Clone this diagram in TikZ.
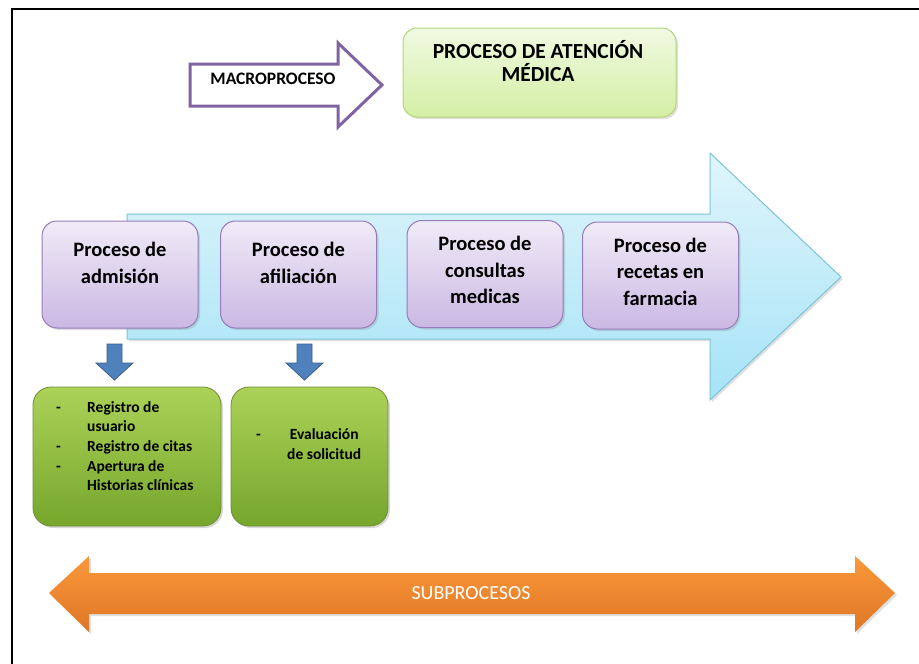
\documentclass[tikz,border=0pt]{standalone}
\usepackage{fontspec}
\setmainfont{Carlito}
\usetikzlibrary{shadows,positioning}
\definecolor{titleTop}{RGB}{240,250,226}
\definecolor{titleBot}{RGB}{212,239,164}
\definecolor{titleLine}{RGB}{178,214,124}
\definecolor{procTop}{RGB}{240,235,247}
\definecolor{procBot}{RGB}{203,184,227}
\definecolor{procLine}{RGB}{150,124,186}
\definecolor{flowTop}{RGB}{224,245,252}
\definecolor{flowBot}{RGB}{166,227,246}
\definecolor{flowLine}{RGB}{124,196,216}
\definecolor{taskTop}{RGB}{172,210,88}
\definecolor{taskBot}{RGB}{118,166,44}
\definecolor{taskLine}{RGB}{112,140,52}
\definecolor{downFill}{RGB}{79,129,189}
\definecolor{downLine}{RGB}{58,94,140}
\definecolor{subTop}{RGB}{251,152,58}
\definecolor{subBot}{RGB}{222,118,38}
\definecolor{macroLine}{RGB}{128,100,162}
\tikzset{
	% Box styles: title, process (purple) and task (green)
	title box/.style={rounded corners=14pt,draw=titleLine,line width=1pt,top color=titleTop,bottom color=titleBot,
		minimum width=273pt,minimum height=89pt,drop shadow={opacity=0.25,shadow xshift=2pt,shadow yshift=-2pt}},
	proc box/.style={rounded corners=15pt,draw=procLine,line width=1pt,top color=procTop,bottom color=procBot,
		minimum width=156pt,minimum height=107pt,drop shadow={opacity=0.25,shadow xshift=2pt,shadow yshift=-2pt}},
	task box/.style={rounded corners=18pt,draw=taskLine,line width=0.8pt,top color=taskTop,bottom color=taskBot,
		minimum height=139pt,drop shadow={opacity=0.3,shadow xshift=2pt,shadow yshift=-2pt}},
	proc text/.style={font=\fontsize{20.5}{26.5}\selectfont\bfseries,align=center,inner sep=0},
	task text/.style={font=\fontsize{15.5}{19.7}\selectfont\bfseries,inner sep=0,anchor=west}
}
\begin{document}
\begin{tikzpicture}[x=1pt,y=-1pt]
	\useasboundingbox (0,0) rectangle (919,664);
	% frame
	\draw[line width=2pt] (12,700) -- (12,9) -- (940,9);

	% macroproceso
	\draw[draw=macroLine,line width=3pt,fill=white,line join=miter]
		(190,64) -- (338,64) -- (338,43) -- (382,85) -- (338,127) -- (338,106) -- (190,106) -- cycle;
	\node[font=\fontsize{17.5}{20}\selectfont\bfseries,inner sep=0] (macro) at (273,79) {MACROPROCESO};
	\node[title box] (title) at (539.5,72.5) {};
	\node[proc text,font=\fontsize{21.5}{23}\selectfont\bfseries] (title-t) at (538,61.5) {PROCESO DE ATENCIÓN\\MÉDICA};

	% flow arrow
	\draw[draw=flowLine,line width=1pt,top color=flowTop,bottom color=flowBot,
		drop shadow={opacity=0.25,shadow xshift=2pt,shadow yshift=-2pt}]
		(127,214) -- (710,214) -- (710,153) -- (841,277) -- (710,400) -- (710,339) -- (127,339) -- cycle;

	% processes
	\node[proc box] (p1) at (120,274.5) {};
	\node[proc box] (p2) at (298.5,274.5) {};
	\node[proc box] (p3) at (485,274) {};
	\node[proc box] (p4) at (660.5,275.5) {};
	\node[proc text] (p1-t) at (120,263) {Proceso de\\admisión};
	\node[proc text] (p2-t) at (298.5,263) {Proceso de\\afiliación};
	\node[proc text] (p3-t) at (485,270) {Proceso de\\consultas\\medicas};
	\node[proc text] (p4-t) at (660.5,271.5) {Proceso de\\recetas en\\farmacia};

	% down arrows
	\draw[fill=downFill,draw=downLine,line width=0.8pt]
		(107,344) -- (122,344) -- (122,363) -- (133,363) -- (114.5,380) -- (96,363) -- (107,363) -- cycle;
	\draw[fill=downFill,draw=downLine,line width=0.8pt]
		(297,344) -- (312,344) -- (312,363) -- (323,363) -- (304.5,380) -- (286,363) -- (297,363) -- cycle;

	% subprocesses
	\node[task box,minimum width=188pt] (s1) at (127,456.5) {};
	\node[task box,minimum width=157pt] (s2) at (309.5,456.5) {};
	\node[task text] (s1-t) at (56,447.5) {\begin{tabular}{@{}p{31pt}@{}l@{}}
		- & Registro de\\ & usuario\\
		- & Registro de citas\\
		- & Apertura de\\
		\multicolumn{2}{@{\hspace{31pt}}l@{}}{Historias clínicas}
	\end{tabular}};
	\node[task text] (s2-t) at (256,445.5) {\begin{tabular}{@{}p{31pt}@{}c@{}}
		- & Evaluación\\ & de solicitud
	\end{tabular}};

	% subprocesos arrow
	\draw[draw=none,top color=subTop,bottom color=subBot,
		drop shadow={opacity=0.25,shadow xshift=2pt,shadow yshift=-2pt}]
		(49,593) -- (89,556) -- (89,573) -- (855,573) -- (855,556) -- (895,593) -- (855,632) -- (855,614) -- (89,614) -- (89,632) -- cycle;
	\node[font=\fontsize{20}{22}\selectfont,text=white,inner sep=0] (sub) at (471,593) {SUBPROCESOS};
\end{tikzpicture}
\end{document}
